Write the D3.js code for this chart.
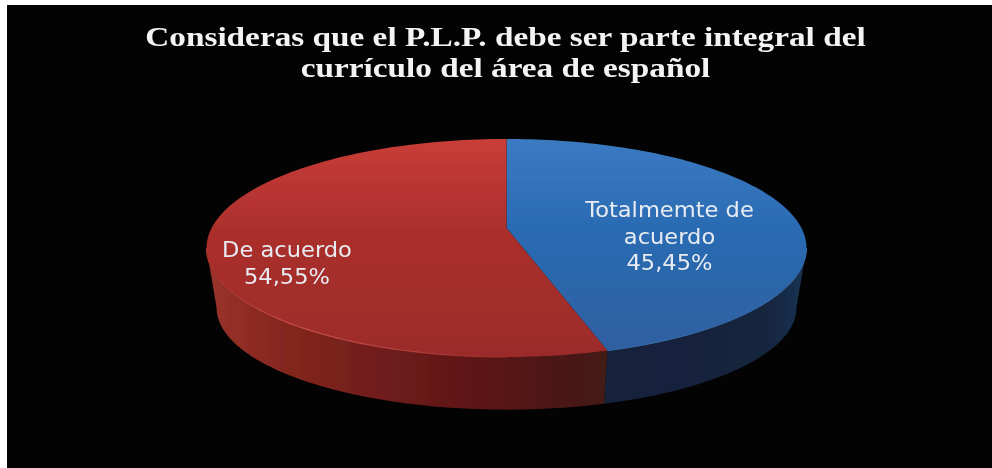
<!DOCTYPE html>
<html><head><meta charset="utf-8">
<script src="https://cdnjs.cloudflare.com/ajax/libs/d3/7.8.5/d3.min.js"></script>
<style>html,body{margin:0;padding:0;background:#fff;overflow:hidden}svg{display:block}</style>
</head><body><svg id="c" width="992" height="468"></svg>
<script>
const categories = ["Totalmemte de acuerdo", "De acuerdo"];
const values = [45.45, 54.55];
const labelLines = [["Totalmemte de", "acuerdo", "45,45%"], ["De acuerdo", "54,55%"]];
const titleLines = ["Consideras que el P.L.P. debe ser parte integral del", "currículo del área de español"];

const svg = d3.select("#c");
svg.append("rect").attr("x", 7).attr("y", 5).attr("width", 985).attr("height", 463).attr("fill", "#030303");

const defs = svg.append("defs");
function grad(id, stops, vertical, from, to) {
  const g = defs.append("linearGradient").attr("id", id).attr("gradientUnits", "userSpaceOnUse");
  if (vertical) g.attr("x1", 0).attr("x2", 0).attr("y1", from).attr("y2", to);
  else g.attr("y1", 0).attr("y2", 0).attr("x1", from).attr("x2", to);
  stops.forEach(s => g.append("stop").attr("offset", s[0]).attr("stop-color", s[1]));
}
grad("topBlue", [[0, "#3b7ac2"], [0.42, "#2a6bb3"], [1, "#305f9f"]], true, 139, 357);
grad("topRed", [[0, "#c93d38"], [0.42, "#ab2f2c"], [1, "#9c2c2b"]], true, 139, 357);
grad("sideRed", [[0, "#9a322b"], [0.2, "#83261f"], [0.5, "#6b1a1a"], [0.75, "#571715"], [1, "#431a18"]], false, 208, 606);
grad("sideBlue", [[0, "#12233b"], [0.8, "#12253e"], [1, "#1a3352"]], false, 604, 805);
grad("rimRed", [[0, "#a8322c"], [0.3, "#c9504a"], [0.65, "#b8433c"], [1, "#9c2c2b"]], false, 208, 500);
const soft = defs.append("filter").attr("id", "soft").attr("x", "-5%").attr("y", "-5%").attr("width", "110%").attr("height", "110%");
soft.append("feGaussianBlur").attr("stdDeviation", 0.5);

// perspective projection of the pie's unit circle onto the picture
function project(cx, cy, rx, ry, shift, k) {
  return a => {
    const x = Math.sin(a), y = -Math.cos(a), d = 1 + k * y;
    return [cx + rx * x / d, cy + (ry * y + shift) / d];
  };
}
const k = -0.1835;
const topRim = project(506.5, 248, 294.9, 109, -20, k);
const botRim = project(506.5, 308, 285, 102, -19, k);
const apex = [506.5, 228];

const pie = d3.pie().sort(null).value(d => d);
const arcs = pie(values);
const line = d3.line();
const sweep = (a0, a1) => d3.range(0, 121).map(i => a0 + (a1 - a0) * i / 120);

const chart = svg.append("g").attr("filter", "url(#soft)");

// the side wall runs between the left and right extremes of the projected rim
const sideVisibleFrom = Math.acos(k), sideVisibleTo = 2 * Math.PI - Math.acos(k);
const sideFills = ["url(#sideBlue)", "url(#sideRed)"];
arcs.forEach((d, i) => {
  const a0 = Math.max(d.startAngle, sideVisibleFrom), a1 = Math.min(d.endAngle, sideVisibleTo);
  const s = sweep(a0, a1);
  chart.append("path").attr("d", line(s.map(topRim).concat(s.slice().reverse().map(botRim))) + "Z")
    .attr("fill", sideFills[i]);
});

const topFills = ["url(#topBlue)", "url(#topRed)"];
arcs.forEach((d, i) => {
  chart.append("path").attr("d", line([apex].concat(sweep(d.startAngle, d.endAngle).map(topRim))) + "Z")
    .attr("fill", topFills[i]);
});
// soft highlight along the front rim
chart.append("path").attr("d", line(sweep(Math.PI, sideVisibleTo).map(topRim)))
  .attr("fill", "none").attr("stroke", "url(#rimRed)").attr("stroke-width", 1.2);
chart.append("path").attr("d", line(sweep(sideVisibleFrom, arcs[0].endAngle).map(topRim)))
  .attr("fill", "none").attr("stroke", "#3a6fae").attr("stroke-width", 1);

const texts = svg.append("g").attr("filter", "url(#soft)");

// the reference text is stretched sideways, so each line is widened to its measured width
function stretched(sel, factor) {
  sel.each(function () {
    d3.select(this).attr("lengthAdjust", "spacingAndGlyphs")
      .attr("textLength", this.getComputedTextLength() * factor);
  });
}

const title = texts.append("g").attr("font-family", "'Liberation Serif'").attr("font-weight", "bold")
  .attr("font-size", 27).attr("fill", "#f4f4f4").attr("text-anchor", "middle");
titleLines.forEach((t, i) => title.append("text").attr("x", 505.5).attr("y", 46 + i * 31).text(t));
stretched(title.selectAll("text"), 1.232);

const labelPos = [[669.5, 217], [287, 257]];
labelLines.forEach((ls, i) => {
  const g = texts.append("g").attr("font-family", "'DejaVu Sans'").attr("font-size", 20.5)
    .attr("fill", "#e8ecf2").attr("text-anchor", "middle");
  ls.forEach((t, j) => g.append("text").attr("x", labelPos[i][0]).attr("y", labelPos[i][1] + j * 26.5).text(t));
  stretched(g.selectAll("text"), 1.10);
});
</script></body></html>
